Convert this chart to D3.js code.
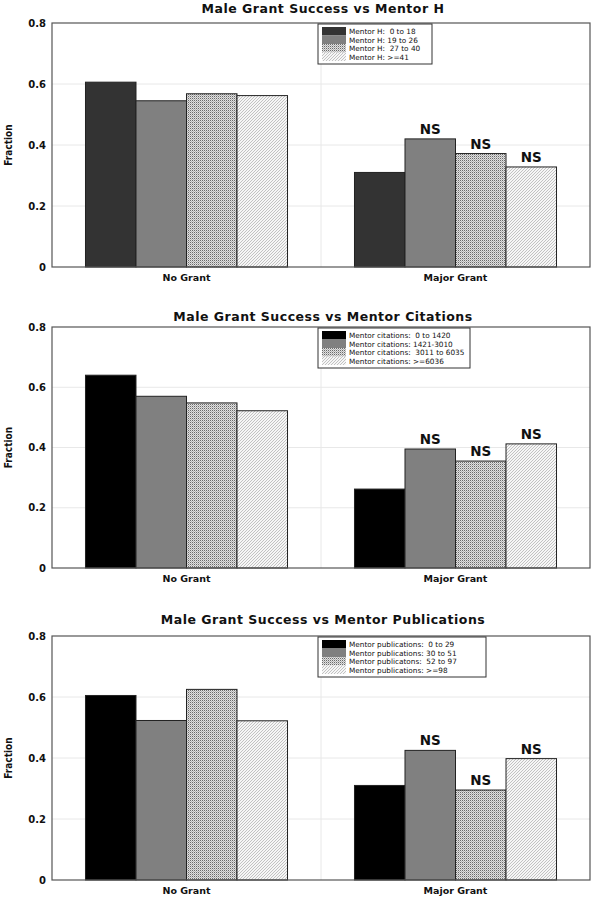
<!DOCTYPE html>
<html><head><meta charset="utf-8">
<script src="https://cdn.jsdelivr.net/npm/d3@7"></script>
<style>body{margin:0;background:#fff}svg{display:block}</style>
</head><body>
<svg id="c" width="600" height="920"></svg>
<script>
const groups = ["No Grant", "Major Grant"];
const yTicks = [0, 0.2, 0.4, 0.6, 0.8];
const titles = ["Male Grant Success vs Mentor H", "Male Grant Success vs Mentor Citations", "Male Grant Success vs Mentor Publications"];
const legendH = ["Mentor H:  0 to 18", "Mentor H: 19 to 26", "Mentor H:  27 to 40", "Mentor H: >=41"];
const legendCit = ["Mentor citations:  0 to 1420", "Mentor citations: 1421-3010", "Mentor citations:  3011 to 6035", "Mentor citations: >=6036"];
const legendPub = ["Mentor publications:  0 to 29", "Mentor publications: 30 to 51", "Mentor publicatons:  52 to 97", "Mentor publications: >=98"];
// values per series: [No Grant, Major Grant]
const hValues = [[0.606, 0.310], [0.545, 0.420], [0.568, 0.372], [0.562, 0.328]];
const citValues = [[0.640, 0.262], [0.570, 0.395], [0.548, 0.355], [0.522, 0.412]];
const pubValues = [[0.605, 0.310], [0.523, 0.425], [0.625, 0.295], [0.522, 0.398]];
const nsFlags = [[false, false], [false, true], [false, true], [false, true]];

const FONT = "DejaVu Sans, Verdana, sans-serif";
const svg = d3.select("#c");
const defs = svg.append("defs");
// dotted pattern
const p1 = defs.append("pattern").attr("id","dots").attr("width",2).attr("height",2).attr("patternUnits","userSpaceOnUse");
p1.append("rect").attr("width",2).attr("height",2).attr("fill","#e0e0e0");
p1.append("rect").attr("width",1).attr("height",1).attr("fill","#6a6a6a");
p1.append("rect").attr("x",1).attr("y",1).attr("width",1).attr("height",1).attr("fill","#b4b4b4");
// hatch pattern
const p2 = defs.append("pattern").attr("id","hatch").attr("width",3).attr("height",3).attr("patternUnits","userSpaceOnUse");
p2.append("rect").attr("width",3).attr("height",3).attr("fill","#f6f6f6");
p2.append("rect").attr("x",0).attr("y",2).attr("width",1).attr("height",1).attr("fill","#c2c2c2");
p2.append("rect").attr("x",1).attr("y",1).attr("width",1).attr("height",1).attr("fill","#c2c2c2");
p2.append("rect").attr("x",2).attr("y",0).attr("width",1).attr("height",1).attr("fill","#c2c2c2");

const panels = [
  {title: titles[0], legend: legendH, values: hValues, first: "#333333", top: 23, bottom: 267, legW: 114, titleY: 13},
  {title: titles[1], legend: legendCit, values: citValues, first: "#000000", top: 327, bottom: 568, legW: 152, titleY: 321},
  {title: titles[2], legend: legendPub, values: pubValues, first: "#000000", top: 636, bottom: 880, legW: 168, titleY: 624}
];
const left = 52, right = 590;

panels.forEach(P => {
  const fills = [P.first, "#808080", "url(#dots)", "url(#hatch)"];
  const g = svg.append("g");
  const y = d3.scaleLinear().domain([0, 0.8]).range([P.bottom, P.top]);
  const x0 = d3.scaleBand().domain(groups).range([left, right]).padding(0);
  const x1 = d3.scaleBand().domain([0,1,2,3]).range([0, x0.bandwidth()]).paddingInner(0).paddingOuter(0.663);

  // grid
  g.selectAll(".grid").data(yTicks.slice(1, -1)).join("line")
    .attr("x1", left).attr("x2", right).attr("y1", d => y(d)).attr("y2", d => y(d))
    .attr("stroke", "#e8e8e8").attr("stroke-width", 1);
  g.append("line").attr("x1", x0(groups[1])).attr("x2", x0(groups[1]))
    .attr("y1", P.top).attr("y2", P.bottom).attr("stroke", "#e8e8e8");

  // bars
  groups.forEach((gr, gi) => {
    P.values.forEach((vals, si) => {
      const v = vals[gi];
      g.append("rect")
        .attr("x", x0(gr) + x1(si)).attr("width", x1.bandwidth())
        .attr("y", y(v)).attr("height", y(0) - y(v))
        .attr("fill", fills[si]).attr("stroke", "#222").attr("stroke-width", 1);
      if (nsFlags[si][gi]) {
        g.append("text").text("NS")
          .attr("x", x0(gr) + x1(si) + x1.bandwidth() / 2).attr("y", y(v) - 5)
          .attr("text-anchor", "middle").attr("font-family", FONT)
          .attr("font-weight", "bold").attr("font-size", 13.5).attr("fill", "#111");
      }
    });
  });

  // frame
  g.append("rect").attr("x", left).attr("y", P.top).attr("width", right - left).attr("height", P.bottom - P.top)
    .attr("fill", "none").attr("stroke", "#555").attr("stroke-width", 1.2);

  // y axis
  const ya = d3.axisLeft(y).tickValues(yTicks).tickSize(0).tickPadding(6)
    .tickFormat(d => d === 0 ? "0" : d3.format(".1f")(d));
  const ag = g.append("g").attr("transform", `translate(${left},0)`).call(ya);
  ag.select(".domain").remove();
  ag.selectAll("text").attr("font-family", FONT).attr("font-weight", "bold")
    .attr("font-size", 10).attr("fill", "#111");

  // x axis labels
  const xa = d3.axisBottom(x0).tickSize(0).tickPadding(7);
  const xg = g.append("g").attr("transform", `translate(0,${P.bottom})`).call(xa);
  xg.select(".domain").remove();
  xg.selectAll("text").attr("font-family", FONT).attr("font-weight", "bold")
    .attr("font-size", 9.5).attr("fill", "#111");

  // y label
  g.append("text").text("Fraction")
    .attr("transform", `translate(12,${(P.top + P.bottom) / 2}) rotate(-90)`)
    .attr("text-anchor", "middle").attr("font-family", "Liberation Sans Narrow, DejaVu Sans Condensed, sans-serif")
    .attr("font-weight", "bold").attr("font-size", 10).attr("fill", "#111");

  // title
  g.append("text").text(P.title).attr("x", (left + right) / 2 + 2).attr("y", P.titleY)
    .attr("text-anchor", "middle").attr("font-family", FONT)
    .attr("font-weight", "bold").attr("font-size", 12.5).attr("letter-spacing", 0.5).attr("fill", "#111");

  // legend
  const lx = 318, ly = P.top + 1, rowH = 8.5;
  const lg = g.append("g");
  lg.append("rect").attr("x", lx).attr("y", ly).attr("width", P.legW).attr("height", rowH * 4 + 6)
    .attr("fill", "#fff").attr("stroke", "#333").attr("stroke-width", 1);
  P.legend.forEach((t, i) => {
    lg.append("rect").attr("x", lx + 4).attr("y", ly + 3 + i * rowH).attr("width", 24).attr("height", rowH)
      .attr("fill", fills[i]);
    lg.append("text").text(t).attr("x", lx + 31).attr("y", ly + 3 + i * rowH + rowH - 1.5)
      .attr("font-family", FONT).attr("font-size", 7.3).attr("fill", "#111")
      .attr("xml:space", "preserve").style("white-space", "pre");
  });
});
</script>
</body></html>
